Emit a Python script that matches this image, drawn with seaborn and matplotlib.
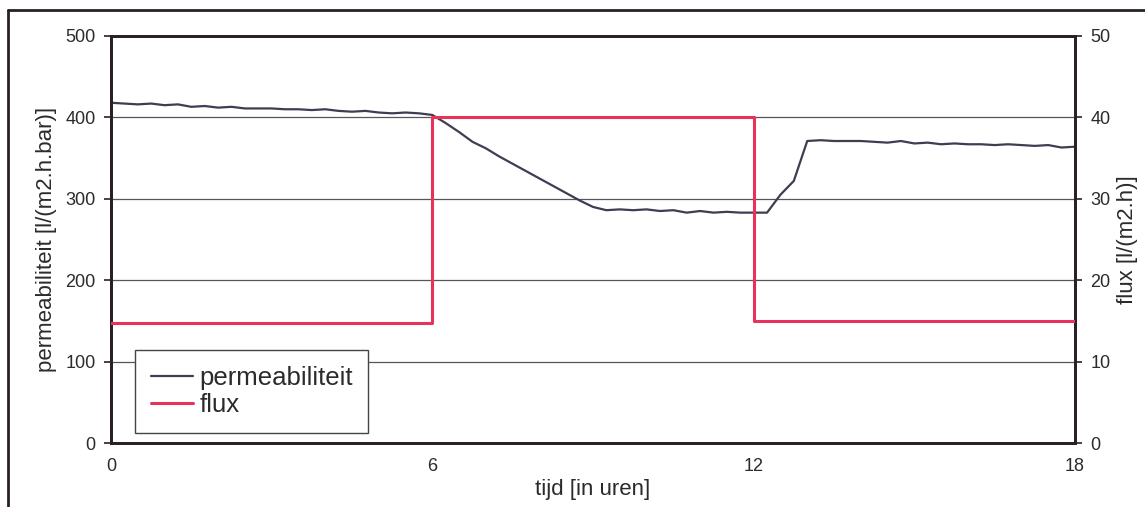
import seaborn as sns
import pandas as pd
import matplotlib.pyplot as plt
from matplotlib.lines import Line2D

# tijd in uren (stappen van 0.25 h)
tijd = [0.0, 0.25, 0.5, 0.75, 1.0, 1.25, 1.5, 1.75, 2.0, 2.25, 2.5, 2.75,
        3.0, 3.25, 3.5, 3.75, 4.0, 4.25, 4.5, 4.75, 5.0, 5.25, 5.5, 5.75,
        6.0, 6.25, 6.5, 6.75, 7.0, 7.25, 7.5, 7.75, 8.0, 8.25, 8.5, 8.75,
        9.0, 9.25, 9.5, 9.75, 10.0, 10.25, 10.5, 10.75, 11.0, 11.25, 11.5, 11.75,
        12.0, 12.25, 12.5, 12.75, 13.0, 13.25, 13.5, 13.75, 14.0, 14.25, 14.5, 14.75,
        15.0, 15.25, 15.5, 15.75, 16.0, 16.25, 16.5, 16.75, 17.0, 17.25, 17.5, 17.75, 18.0]
permeabiliteit = [418, 417, 416, 417, 415, 416, 413, 414, 412, 413, 411, 411,
                  411, 410, 410, 409, 410, 408, 407, 408, 406, 405, 406, 405,
                  403, 393, 382, 370, 362, 352, 343, 334, 325, 316, 307, 298,
                  290, 286, 287, 286, 287, 285, 286, 283, 285, 283, 284, 283,
                  283, 283, 305, 322, 371, 372, 371, 371, 371, 370, 369, 371,
                  368, 369, 367, 368, 367, 367, 366, 367, 366, 365, 366, 363, 364]

flux_tijd = [0, 6, 6, 12, 12, 18]
flux = [14.7, 14.7, 40.0, 40.0, 15.0, 15.0]

perm_kleur = '#3e3d52'
flux_kleur = '#e8325a'
rand_kleur = '#2a2024'
tekst_kleur = '#2b2b2b'

sns.set_style('white')
plt.rcParams['font.family'] = ['Liberation Sans', 'DejaVu Sans']

fig = plt.figure(figsize=(11.45, 5.07), dpi=100)
ax = fig.add_axes([111 / 1145, 1 - 443 / 507, 964 / 1145, 407 / 507])
ax2 = ax.twinx()

df_perm = pd.DataFrame({'tijd': tijd, 'waarde': permeabiliteit})
df_flux = pd.DataFrame({'tijd': flux_tijd, 'waarde': flux})

for y in [100, 200, 300, 400]:
    ax.axhline(y, color='#5a5458', linewidth=0.9, zorder=0)

sns.lineplot(data=df_perm, x='tijd', y='waarde', ax=ax, color=perm_kleur,
             linewidth=1.6, estimator=None, sort=False, zorder=3)
sns.lineplot(data=df_flux, x='tijd', y='waarde', ax=ax2, color=flux_kleur,
             linewidth=2.2, estimator=None, sort=False, zorder=3)

ax.set_xlim(0, 18)
ax.set_ylim(0, 500)
ax2.set_ylim(0, 50)
ax.set_xticks([0, 6, 12, 18])
ax.set_yticks([0, 100, 200, 300, 400, 500])
ax2.set_yticks([0, 10, 20, 30, 40, 50])

for a in (ax, ax2):
    for s in a.spines.values():
        s.set_color(rand_kleur)
        s.set_linewidth(2.0)
    a.tick_params(direction='out', length=5, width=1.2, colors=rand_kleur,
                  labelsize=13, labelcolor=tekst_kleur, pad=6)

ax.set_xlabel('tijd [in uren]', fontsize=16, color=tekst_kleur, labelpad=3)
ax.set_ylabel('permeabiliteit [l/(m2.h.bar)]', fontsize=16, color=tekst_kleur, labelpad=6)
ax2.set_ylabel('flux [l/(m2.h)]', fontsize=16, color=tekst_kleur, labelpad=5)

handles = [Line2D([], [], color=perm_kleur, linewidth=1.6),
           Line2D([], [], color=flux_kleur, linewidth=2.2)]
leg = ax2.legend(handles, ['permeabiliteit', 'flux'], loc='lower left',
                 bbox_to_anchor=(0.025, 0.025), borderaxespad=0, fontsize=18.5,
                 frameon=True, fancybox=False, framealpha=1, edgecolor='#444444',
                 handlelength=1.65, handletextpad=0.25, borderpad=0.6,
                 labelspacing=0.15)
leg.get_frame().set_linewidth(1.0)
for t in leg.get_texts():
    t.set_color(tekst_kleur)
ax2.set_zorder(2)
ax.set_zorder(1)
ax2.patch.set_visible(False)

# buitenrand van de figuur
fig.add_artist(Line2D([8 / 1145, 8 / 1145], [0, 1 - 10 / 507], color=rand_kleur,
                      linewidth=2.0, transform=fig.transFigure))
fig.add_artist(Line2D([8 / 1145, 1], [1 - 10 / 507, 1 - 10 / 507], color=rand_kleur,
                      linewidth=2.0, transform=fig.transFigure))

fig.savefig('out.png', dpi=100, facecolor='white')
